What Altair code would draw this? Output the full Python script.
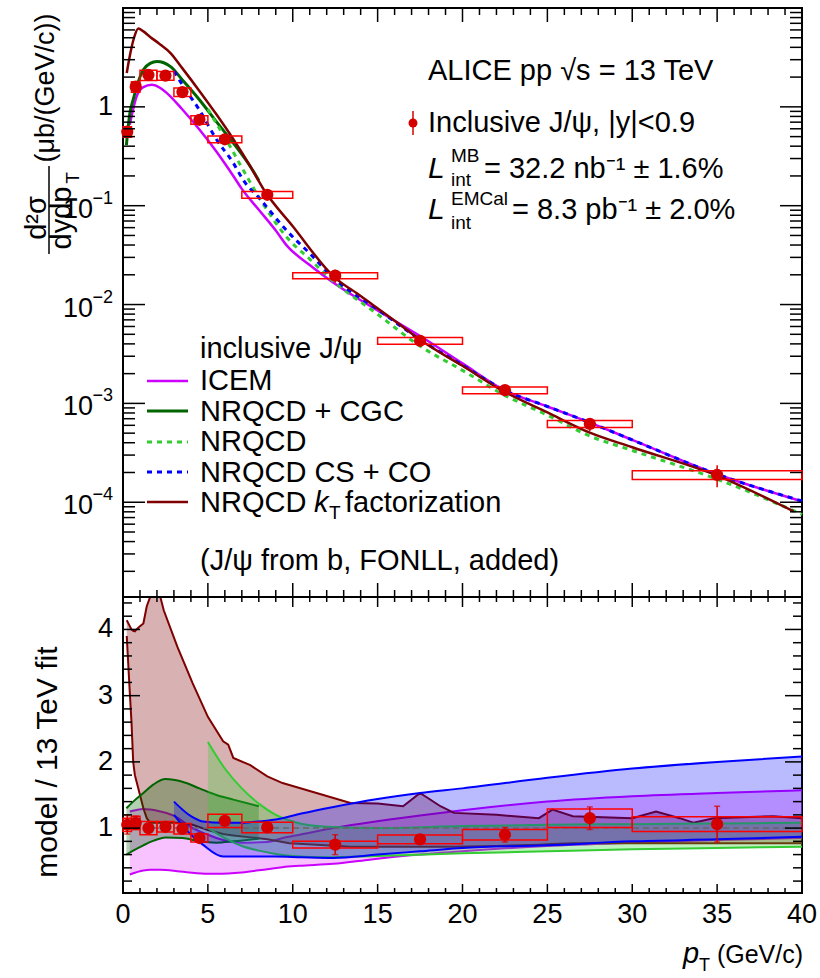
import altair as alt
import pandas as pd

FONT = "Liberation Sans"
X0, Y0 = 123, 8            # plot-area origin inside the 820x978 page
W, H_TOP, H_RAT = 679, 589, 296
H = H_TOP + H_RAT

# ---------------- measured data ----------------
pt = [0.25, 0.75, 1.5, 2.5, 3.5, 4.5, 6, 8.5, 12.5, 17.5, 22.5, 27.5, 35]
pt_lo = [0, 0.5, 1, 2, 3, 4, 5, 7, 10, 15, 20, 25, 30]
pt_hi = [0.5, 1, 2, 3, 4, 5, 7, 10, 15, 20, 25, 30, 40]
xsec = [0.56, 1.6, 2.1, 2.07, 1.41, 0.74, 0.47, 0.129, 0.0196, 0.0043, 0.00136, 0.00062, 0.000189]
stat_rel = [0.14, 0.08, 0.05, 0.04, 0.05, 0.06, 0.05, 0.04, 0.15, 0.05, 0.1, 0.15, 0.25]
syst_rel = [0.12, 0.12, 0.12, 0.1, 0.1, 0.1, 0.08, 0.08, 0.07, 0.08, 0.08, 0.08, 0.1]
ratio = [1.05, 1.08, 1.0, 1.02, 0.99, 0.85, 1.11, 1.01, 0.75, 0.83, 0.90, 1.15, 1.06]
ratio_stat = [0.14, 0.1, 0.05, 0.04, 0.05, 0.05, 0.06, 0.05, 0.15, 0.06, 0.11, 0.17, 0.27]
ratio_syst = [0.1, 0.1, 0.1, 0.08, 0.08, 0.06, 0.1, 0.08, 0.05, 0.065, 0.08, 0.14, 0.11]

# ---------------- model curves (top panel) ----------------
icem_pt = [0.4, 0.8, 1.2, 1.7, 2.2, 2.6, 3.5, 4.5, 5.5, 6.5, 7, 8, 9, 9.6, 11, 12.4, 15, 17.5, 20, 22.4, 25, 27.5, 30, 35, 40]
icem_v = [0.66, 1.27, 1.58, 1.67, 1.55, 1.37, 0.94, 0.59, 0.354, 0.2, 0.148, 0.091, 0.056, 0.0404, 0.0251, 0.0166,
          0.0087, 0.0048, 0.00254, 0.00138, 0.00093, 0.00064, 0.000427, 0.000192, 0.000102]
cgc_pt = [0.2, 0.4, 0.6, 0.9, 1.2, 1.6, 2.0, 2.8, 3.5, 4.5, 5.5, 6.5, 7.5, 8.0]
cgc_v = [0.41, 0.85, 1.18, 1.8, 2.37, 2.75, 2.87, 2.55, 1.87, 1.18, 0.71, 0.43, 0.249, 0.18]
nrqcd_pt = [5, 5.5, 6.3, 7, 8.1, 9.6, 11, 12.4, 15, 17.5, 20, 22.4, 25, 27.5, 30, 35, 40]
nrqcd_v = [0.95, 0.68, 0.4, 0.243, 0.115, 0.049, 0.0288, 0.0172, 0.00797, 0.0038, 0.00216, 0.00123, 0.00076,
           0.000468, 0.000334, 0.000171, 0.0000755]
csco_pt = [3, 3.5, 4.5, 5.5, 6.5, 7.1, 8, 9.6, 11, 12.4, 15, 17.5, 20, 22.4, 25, 27.5, 30, 35, 40]
csco_v = [2.3, 1.67, 0.93, 0.47, 0.27, 0.18, 0.121, 0.057, 0.0329, 0.0186, 0.00893, 0.00443, 0.00244, 0.00138,
          0.00093, 0.00064, 0.000427, 0.000192, 0.000103]
kt_pt = [0.22, 0.45, 0.65, 0.9, 1.2, 1.6, 2.1, 2.8, 3.5, 4.5, 5.5, 6.5, 7.5, 8.3, 10, 12.4, 14, 16.3, 17.5, 20,
         22.4, 25, 27.5, 30, 35, 39.5]
kt_v = [2.2, 3.6, 5.0, 6.2, 5.8, 5.1, 4.4, 3.5, 2.45, 1.45, 0.84, 0.47, 0.25, 0.145, 0.062, 0.0193, 0.0122, 0.0063,
        0.0044, 0.0024, 0.00133, 0.00081, 0.000506, 0.00036, 0.000186, 0.000081]

# ---------------- model / fit bands (ratio panel) ----------------
icem_r_pt = [0.4, 1.2, 1.6, 2.2, 3.2, 3.9, 5, 5.5, 7, 8.5, 9.4, 10.4, 12.4, 14.4, 17.5, 20, 25, 30, 35, 40]
icem_r_hi = [1.25, 1.29, 1.28, 1.25, 1.16, 1.03, 0.9, 0.85, 0.78, 0.79, 0.85, 0.9, 1.0, 1.08, 1.19, 1.27, 1.4, 1.48, 1.53, 1.57]
icem_r_lo = [0.30, 0.36, 0.37, 0.37, 0.35, 0.33, 0.31, 0.31, 0.33, 0.38, 0.41, 0.43, 0.46, 0.52, 0.6, 0.65, 0.73, 0.78, 0.82, 0.85]
cgc_r_pt = [0.2, 0.6, 1.2, 1.8, 2.5, 3.5, 4.5, 5.5, 6.5, 8]
cgc_r_hi = [1.3, 1.4, 1.53, 1.66, 1.74, 1.70, 1.6, 1.5, 1.43, 1.33]
cgc_r_lo = [0.6, 0.66, 0.74, 0.81, 0.86, 0.85, 0.8, 0.78, 0.8, 0.84]
nrqcd_r_pt = [5, 6, 7, 8, 9, 10, 12, 15, 20, 25, 30, 35, 40]
nrqcd_r_hi = [2.3, 1.9, 1.6, 1.37, 1.2, 1.1, 1.02, 1.0, 1.03, 1.05, 1.06, 1.07, 1.08]
nrqcd_r_lo = [1.0, 0.85, 0.73, 0.66, 0.61, 0.58, 0.56, 0.58, 0.62, 0.65, 0.68, 0.7, 0.72]
csco_r_pt = [3, 4, 4.7, 5.9, 7, 7.5, 9, 10.5, 12.4, 15, 17.5, 20, 25, 30, 35, 40]
csco_r_hi = [1.40, 1.18, 1.10, 1.08, 1.08, 1.09, 1.13, 1.22, 1.32, 1.44, 1.53, 1.6, 1.76, 1.9, 2.0, 2.08]
csco_r_lo = [1.2, 0.9, 0.75, 0.57, 0.57, 0.57, 0.57, 0.56, 0.55, 0.6, 0.65, 0.7, 0.74, 0.8, 0.83, 0.87]
kt_r_pt = [0.22, 0.4, 0.5, 0.6, 0.7, 0.8, 1.0, 1.2, 1.4, 1.6, 1.8, 2.2, 2.4, 3.2, 4.1, 5.0, 5.9, 6.2, 6.5, 7.5, 8.5,
           9.4, 9.8, 11.4, 13.4, 15, 16.5, 17.5, 18.7, 19.5, 22, 24.5, 25.3, 26.5, 30, 31.4, 32.8, 33.6, 34.8, 38.3, 40]
kt_r_hi = [4.14, 4.05, 4.0, 3.98, 3.97, 4.0, 4.05, 4.09, 4.35, 4.6, 4.7, 4.6, 4.29, 3.74, 3.19, 2.68, 2.31, 2.26, 2.06,
           1.95, 1.78, 1.68, 1.65, 1.53, 1.38, 1.37, 1.33, 1.53, 1.33, 1.23, 1.2, 1.15, 1.28, 1.18, 1.15, 1.25, 1.15,
           1.08, 1.15, 1.18, 1.15]
kt_r_lo = [3.9, 3.05, 2.6, 2.0, 1.8, 1.7, 1.5, 1.3, 1.15, 1.08, 1.08, 1.08, 1.08, 1.08, 1.05, 0.97, 0.91, 0.9, 0.89,
           0.86, 0.83, 0.79, 0.77, 0.75, 0.72, 0.72, 0.72, 0.72, 0.72, 0.72, 0.73, 0.75, 0.76, 0.77, 0.77, 0.77, 0.77,
           0.77, 0.77, 0.77, 0.77]

# ---------------- axis ticks / labels ----------------
x_major = [0, 5, 10, 15, 20, 25, 30, 35, 40]
x_minor = [v for v in range(1, 40) if v % 5 != 0]
y_major = [1e-4, 1e-3, 1e-2, 1e-1, 1]
y_minor = [k * 10.0 ** e for e in range(-5, 1) for k in range(2, 10) if 1.1e-5 <= k * 10.0 ** e <= 10]
y_exp = ["−4", "−3", "−2", "−1"]
r_major = [1, 2, 3, 4]
r_minor = [round(0.2 * i, 1) for i in range(1, 23) if i % 5 != 0]

# ---------------- colours ----------------
C_DATA, C_BOX = "#d40000", "#ff0000"
C_ICEM, C_CGC, C_NRQCD, C_CSCO, C_KT = "#cc00ff", "#006400", "#33cc33", "#0000ff", "#7f0000"

xs = alt.Scale(domain=[0, 40], nice=False, zero=False)
yt = alt.Scale(type="log", domain=[1.1e-5, 10], range=[H_TOP, 0], nice=False)
yr = alt.Scale(domain=[0.02, 4.49], range=[H, H_TOP], nice=False, zero=False, clamp=True)
one = pd.DataFrame({"a": [0]})


def X(f="pt"):
    return alt.X(f"{f}:Q", scale=xs, axis=None)


def YT(f="v"):
    return alt.Y(f"{f}:Q", scale=yt, axis=None)


def YR(f="v"):
    return alt.Y(f"{f}:Q", scale=yr, axis=None)


def txt(s, x, y, size=29, align="left", baseline="alphabetic", style="normal", angle=0):
    kw = dict(text=s, fontSize=size, font=FONT, align=align, baseline=baseline, color="black")
    if style != "normal":
        kw["fontStyle"] = style
    if angle:
        kw["angle"] = angle
    return alt.Chart(one).mark_text(**kw).encode(x=alt.value(x - X0), y=alt.value(y - Y0))


def hline(x1, x2, y, color, dash=None, width=2.5):
    kw = dict(color=color, strokeWidth=width)
    if dash:
        kw["strokeDash"] = dash
    return alt.Chart(one).mark_rule(**kw).encode(x=alt.value(x1 - X0), x2=alt.value(x2 - X0), y=alt.value(y - Y0))


def curve(p, v, color, dash=None, width=2.5):
    kw = dict(color=color, strokeWidth=width, interpolate="monotone")
    if dash:
        kw["strokeDash"] = dash
    return alt.Chart(pd.DataFrame({"pt": p, "v": v})).mark_line(**kw).encode(x=X(), y=YT())


def band(p, lo, hi, color, fill, op, interp="monotone"):
    base = alt.Chart(pd.DataFrame({"pt": p, "lo": lo, "hi": hi})).encode(x=X())
    return [
        base.mark_area(color=fill, opacity=op, interpolate=interp).encode(y=YR("lo"), y2="hi:Q"),
        base.mark_line(color=color, strokeWidth=2, interpolate=interp).encode(y=YR("lo")),
        base.mark_line(color=color, strokeWidth=2, interpolate=interp).encode(y=YR("hi")),
    ]


def xticks(vals, y1, y2):
    return alt.Chart(pd.DataFrame({"pt": vals})).mark_rule(color="black", strokeWidth=1.5).encode(
        x=X(), y=alt.value(y1), y2=alt.value(y2))


def yticks(vals, scale_fn, x1, x2):
    return alt.Chart(pd.DataFrame({"v": vals})).mark_rule(color="black", strokeWidth=1.5).encode(
        y=scale_fn(), x=alt.value(x1), x2=alt.value(x2))


# ---------------- data frames ----------------
d = pd.DataFrame({"pt": pt, "lo": pt_lo, "hi": pt_hi, "v": xsec, "st": stat_rel, "sy": syst_rel,
                  "r": ratio, "rst": ratio_stat, "rsy": ratio_syst})
d["v_slo"] = d.v * (1 - d.sy)
d["v_shi"] = d.v * (1 + d.sy)
d["v_elo"] = d.v * (1 - d.st)
d["v_ehi"] = d.v * (1 + d.st)
d["r_slo"] = d.r - d.rsy
d["r_shi"] = d.r + d.rsy
d["r_elo"] = d.r - d.rst
d["r_ehi"] = d.r + d.rst
dc = alt.Chart(d)

# ---------------- top panel ----------------
top = [
    curve(icem_pt, icem_v, C_ICEM),
    curve(cgc_pt, cgc_v, C_CGC, width=3),
    curve(nrqcd_pt, nrqcd_v, C_NRQCD, dash=[5, 5], width=3),
    curve(csco_pt, csco_v, C_CSCO, dash=[5, 5], width=3),
    curve(kt_pt, kt_v, C_KT, width=2.5),
    dc.mark_rect(fillOpacity=0, stroke=C_BOX, strokeWidth=1.5).encode(x=X("lo"), x2="hi:Q", y=YT("v_slo"), y2="v_shi:Q"),
    dc.mark_rule(color=C_DATA, strokeWidth=1.5).encode(x=X(), y=YT("v_elo"), y2="v_ehi:Q"),
    dc.mark_point(filled=True, shape="circle", size=150, color=C_DATA, opacity=1).encode(x=X(), y=YT("v")),
    # ticks
    xticks(x_major, 0, 14), xticks(x_minor, 0, 7),
    xticks(x_major, H_TOP, H_TOP - 14), xticks(x_minor, H_TOP, H_TOP - 7),
    yticks(y_major, YT, 0, 22), yticks(y_minor, YT, 0, 12),
    yticks(y_major, YT, W, W - 22), yticks(y_minor, YT, W, W - 12),
    # y labels
    alt.Chart(pd.DataFrame({"v": [1]})).mark_text(text="1", fontSize=27, font=FONT, align="right", baseline="middle").encode(
        y=YT(), x=alt.value(-10)),
    alt.Chart(pd.DataFrame({"v": y_major[:4]})).mark_text(text="10", fontSize=27, font=FONT, align="right",
                                                           baseline="middle", dy=4).encode(y=YT(), x=alt.value(-30)),
    alt.Chart(pd.DataFrame({"v": y_major[:4], "e": y_exp})).mark_text(fontSize=18, font=FONT, align="right",
                                                                      baseline="middle", dy=-7).encode(
        y=YT(), x=alt.value(-10), text="e:N"),
]

# ---------------- ratio panel ----------------
rat = []
rat += band(icem_r_pt, icem_r_lo, icem_r_hi, C_ICEM, "#ee77ff", 0.45)
rat += band(kt_r_pt, kt_r_lo, kt_r_hi, C_KT, C_KT, 0.3, interp="linear")
rat += band(cgc_r_pt, cgc_r_lo, cgc_r_hi, C_CGC, C_CGC, 0.3)
rat += band(nrqcd_r_pt, nrqcd_r_lo, nrqcd_r_hi, C_NRQCD, C_NRQCD, 0.3)
rat += band(csco_r_pt, csco_r_lo, csco_r_hi, C_CSCO, C_CSCO, 0.27)
rat += [
    alt.Chart(pd.DataFrame({"v": [1]})).mark_rule(color="#666666", strokeWidth=1.5, strokeDash=[6, 4]).encode(
        y=YR(), x=alt.value(0), x2=alt.value(W)),
    dc.mark_rect(fillOpacity=0, stroke=C_BOX, strokeWidth=1.5).encode(x=X("lo"), x2="hi:Q", y=YR("r_slo"), y2="r_shi:Q"),
    dc.mark_rule(color=C_DATA, strokeWidth=1.5).encode(x=X(), y=YR("r_elo"), y2="r_ehi:Q"),
    dc.mark_tick(color=C_DATA, orient="horizontal", size=6, thickness=1.5).encode(x=X(), y=YR("r_elo")),
    dc.mark_tick(color=C_DATA, orient="horizontal", size=6, thickness=1.5).encode(x=X(), y=YR("r_ehi")),
    dc.mark_point(filled=True, shape="circle", size=150, color=C_DATA, opacity=1).encode(x=X(), y=YR("r")),
    xticks(x_major, H_TOP, H_TOP + 10), xticks(x_minor, H_TOP, H_TOP + 5),
    xticks(x_major, H, H - 9), xticks(x_minor, H, H - 5),
    yticks(r_major, YR, 0, 17), yticks(r_minor, YR, 0, 9),
    yticks(r_major, YR, W, W - 17), yticks(r_minor, YR, W, W - 9),
    alt.Chart(pd.DataFrame({"v": r_major})).mark_text(fontSize=27, font=FONT, align="right", baseline="middle").encode(
        y=YR(), x=alt.value(-10), text="v:Q"),
    alt.Chart(pd.DataFrame({"pt": x_major})).mark_text(fontSize=27, font=FONT, align="center", baseline="middle").encode(
        x=X(), y=alt.value(H + 22), text="pt:Q"),
    # panel separator
    alt.Chart(one).mark_rule(color="black", strokeWidth=2).encode(x=alt.value(0), x2=alt.value(W), y=alt.value(H_TOP)),
]

# ---------------- annotations & legend ----------------
ann = [
    txt("ALICE pp √s = 13 TeV", 428, 80),
    txt("Inclusive J/ψ, |y|<0.9", 428, 132),
    alt.Chart(one).mark_rule(color=C_DATA, strokeWidth=1.5).encode(x=alt.value(413 - X0), y=alt.value(111 - Y0),
                                                                   y2=alt.value(135 - Y0)),
    alt.Chart(one).mark_point(filled=True, shape="circle", size=80, color=C_DATA, opacity=1).encode(
        x=alt.value(413 - X0), y=alt.value(123 - Y0)),
    txt("L", 428, 178, size=30, style="italic"),
    txt("MB", 451, 162, size=19),
    txt("int", 451, 186, size=19),
    txt("= 32.2 nb⁻¹ ± 1.6%", 484, 178),
    txt("L", 428, 219, size=30, style="italic"),
    txt("EMCal", 451, 205, size=19),
    txt("int", 451, 229, size=19),
    txt("= 8.3 pb⁻¹ ± 2.0%", 512, 219),
    # legend
    txt("inclusive J/ψ", 200, 358),
    hline(147, 188, 381, C_ICEM), txt("ICEM", 200, 390),
    hline(147, 188, 411, C_CGC, width=3), txt("NRQCD + CGC", 200, 421),
    hline(147, 188, 442, C_NRQCD, dash=[5, 5], width=3), txt("NRQCD", 200, 451),
    hline(147, 188, 472, C_CSCO, dash=[5, 5], width=3), txt("NRQCD CS + CO", 200, 482),
    hline(147, 188, 502, C_KT), txt("NRQCD", 200, 512),
    txt("k", 314, 512, style="italic"), txt("T", 329, 519, size=19),
    txt("factorization", 345, 512),
    txt("(J/ψ from b, FONLL, added)", 200, 570),
    # y title (top)
    txt("(μb/(GeV/c))", 54, 88, size=27, align="center", angle=270),
    txt("d²σ", 46, 218, size=29, align="center", angle=270),
    alt.Chart(one).mark_rule(color="black", strokeWidth=1.5).encode(x=alt.value(49 - X0), y=alt.value(166 - Y0),
                                                                    y2=alt.value(254 - Y0)),
    txt("dydp", 71, 218, size=29, align="center", angle=270),
    txt("T", 79, 178, size=19, align="center", angle=270),
    # y title (ratio)
    txt("model / 13 TeV fit", 57, 762, size=30, align="center", angle=270),
    # x title
    txt("p", 683, 963, size=29, style="italic"),
    txt("T", 699, 971, size=18),
    txt("(GeV/c)", 803, 963, size=25, align="right"),
]

chart = alt.layer(
    alt.layer(*top, *ann),
    alt.layer(*rat),
).resolve_scale(y="independent").properties(
    width=W, height=H,
    autosize=alt.AutoSizeParams(type="none"),
    padding={"left": X0, "top": Y0, "right": 820 - X0 - W, "bottom": 978 - Y0 - H},
    background="white",
).configure_view(stroke="black", strokeWidth=2)

chart.save("out.html", embed_options={"renderer": "svg", "actions": False})
